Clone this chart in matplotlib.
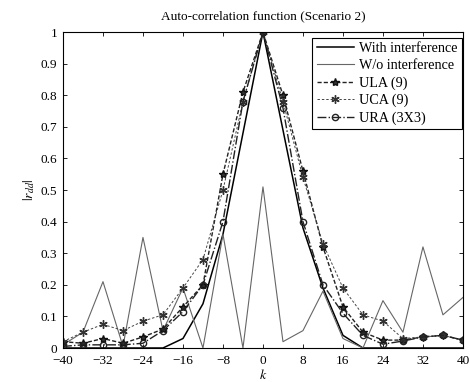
import matplotlib
matplotlib.use("Agg")
import matplotlib.pyplot as plt

plt.rcParams['font.family'] = ['Liberation Serif', 'DejaVu Serif']
plt.rcParams['mathtext.fontset'] = 'stix'

k = [-40, -36, -32, -28, -24, -20, -16, -12, -8, -4, 0, 4, 8, 12, 16, 20, 24, 28, 32, 36, 40]

with_interf = [0, 0, 0, 0, 0, 0, 0.03, 0.14, 0.36, 0.68, 1.0, 0.69, 0.38, 0.19, 0.04, 0, 0, 0, 0, 0, 0]
wo_interf = [0.01, 0.05, 0.21, 0.005, 0.35, 0.055, 0.19, 0.0, 0.36, 0.0, 0.51,
             0.02, 0.055, 0.18, 0.03, 0.0, 0.15, 0.05, 0.32, 0.105, 0.16]
ula = [0.02, 0.015, 0.03, 0.015, 0.035, 0.06, 0.13, 0.20, 0.55, 0.81, 1.0,
       0.80, 0.56, 0.32, 0.13, 0.05, 0.025, 0.025, 0.035, 0.04, 0.025]
uca = [0.02, 0.05, 0.075, 0.055, 0.085, 0.105, 0.19, 0.28, 0.50, 0.78, 1.0,
       0.78, 0.54, 0.33, 0.19, 0.105, 0.085, 0.03, 0.035, 0.04, 0.025]
ura = [0.005, 0.01, 0.01, 0.01, 0.015, 0.055, 0.115, 0.20, 0.40, 0.78, 1.0,
       0.76, 0.40, 0.20, 0.11, 0.04, 0.012, 0.022, 0.035, 0.04, 0.025]

xticks = [-40, -32, -24, -16, -8, 0, 8, 16, 24, 32, 40]
yticks = [0, 0.1, 0.2, 0.3, 0.4, 0.5, 0.6, 0.7, 0.8, 0.9, 1]
yticklabels = ['0', '0.1', '0.2', '0.3', '0.4', '0.5', '0.6', '0.7', '0.8', '0.9', '1']

fig = plt.figure(figsize=(4.70, 3.82), dpi=100)
ax = fig.add_axes([0.134, 0.089, 0.851, 0.827])

ax.plot(k, with_interf, '-', color='black', lw=1.1, label='With interference')
ax.plot(k, wo_interf, '-', color='#666666', lw=0.8, label='W/o interference')
ax.plot(k, ula, '--', color='#222222', lw=1.0, marker='*', ms=6, mfc='#333333', mec='#111111',
        dashes=(3, 1.5), label='ULA (9)')
ax.plot(k, uca, '--', color='#444444', lw=0.7, marker=(6, 2, 0), ms=6, mec='#333333',
        dashes=(2.5, 2), label='UCA (9)')
ax.plot(k, ura, '-.', color='#222222', lw=1.0, marker='o', ms=4.5, mfc='none', mec='#222222',
        label='URA (3X3)')

ax.set_xlim(-40, 40)
ax.set_ylim(0, 1)
ax.set_xticks(xticks)
ax.set_yticks(yticks)
ax.set_yticklabels(yticklabels)
ax.tick_params(direction='in', top=True, right=True, labelsize=9.5, length=3, width=0.6)
ax.tick_params(axis='x', pad=5)
ax.tick_params(axis='y', pad=4)
for s in ax.spines.values():
    s.set_linewidth(0.8)

ax.set_title('Auto-correlation function (Scenario 2)', fontsize=9.5, pad=9)
ax.set_xlabel('$k$', fontsize=10, labelpad=1)
ax.set_ylabel('$|r_{dd}|$', fontsize=10, labelpad=3)

leg = ax.legend(loc='upper right', bbox_to_anchor=(0.9975, 0.981), fontsize=10.2,
                frameon=True, fancybox=False, edgecolor='black', framealpha=1,
                handlelength=2.6, borderpad=0.3, labelspacing=0.28, handletextpad=0.4,
                borderaxespad=0.0)
leg.get_frame().set_linewidth(0.8)

fig.savefig('out.png', dpi=100)
